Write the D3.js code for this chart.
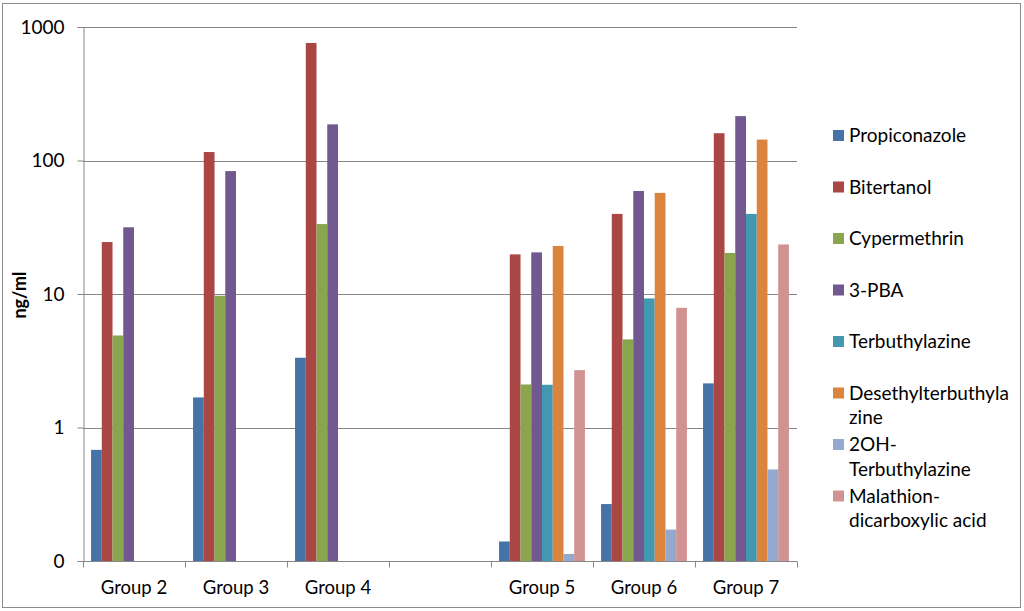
<!DOCTYPE html>
<html>
<head>
<meta charset="utf-8">
<script src="https://cdn.jsdelivr.net/npm/d3@7"></script>
<style>
  body { margin: 0; background: #fff; }
  text { font-family: Lato, "Noto Sans", sans-serif; fill: #000; }
</style>
</head>
<body>
<div class="chart"></div>
<script>
const categories = ["Group 2", "Group 3", "Group 4", "", "Group 5", "Group 6", "Group 7"];
const seriesNames = ["Propiconazole", "Bitertanol", "Cypermethrin", "3-PBA",
  "Terbuthylazine", "Desethylterbuthylazine", "2OH-Terbuthylazine", "Malathion-dicarboxylic acid"];
const legendLines = [["Propiconazole"], ["Bitertanol"], ["Cypermethrin"], ["3-PBA"],
  ["Terbuthylazine"], ["Desethylterbuthyla", "zine"], ["2OH-", "Terbuthylazine"], ["Malathion-", "dicarboxylic acid"]];
const colors = ["#4572A7", "#AA4643", "#89A54E", "#71588F", "#4198AF", "#DB843D", "#93A9CF", "#D19392"];

// one array per series, one value per category (null = no bar)
const propiconazole = [0.68, 1.68, 3.33, null, 0.14, 0.267, 2.14];
const bitertanol    = [24.5, 115.7, 759, null, 19.8, 39.8, 160];
const cypermethrin  = [4.89, 9.7, 33.4, null, 2.1, 4.57, 20.3];
const pba3          = [31.6, 83.3, 186.5, null, 20.5, 59.1, 215];
const terbuthyl     = [null, null, null, null, 2.09, 9.26, 39.8];
const desethyl      = [null, null, null, null, 22.9, 57.2, 143.5];
const oh2terbuthyl  = [null, null, null, null, 0.113, 0.172, 0.485];
const malathion     = [null, null, null, null, 2.69, 7.88, 23.5];
const seriesValues = [propiconazole, bitertanol, cypermethrin, pba3, terbuthyl, desethyl, oh2terbuthyl, malathion];

const yTickValues = [0.1, 1, 10, 100, 1000];
const yTickLabels = ["0", "1", "10", "100", "1000"];

const W = 1024, H = 611;
const plot = { left: 83, right: 797, top: 27, bottom: 561 };

const svg = d3.select(".chart").append("svg")
  .attr("width", W).attr("height", H);

// chart frame
svg.append("rect")
  .attr("x", 2.5).attr("y", 3.5).attr("width", 1018).attr("height", 604)
  .attr("fill", "#fff").attr("stroke", "#8c8c8c");

const y = d3.scaleLog().domain([0.1, 1000]).range([plot.bottom, plot.top]);
const x0 = d3.scaleBand().domain(d3.range(categories.length)).range([plot.left, plot.right]);
const x1 = d3.scaleBand().domain(d3.range(seriesNames.length))
  .range([0, x0.bandwidth()]).paddingInner(0).paddingOuter(0.75);

// gridlines
svg.append("g").selectAll("line").data(yTickValues.slice(1)).join("line")
  .attr("x1", plot.left).attr("x2", plot.right)
  .attr("y1", d => Math.round(y(d)) + 0.5).attr("y2", d => Math.round(y(d)) + 0.5)
  .attr("stroke", "#868686").attr("stroke-width", 1);

// bars
const bars = [];
seriesValues.forEach((vals, s) => vals.forEach((v, c) => {
  if (v != null) bars.push({ s, c, v });
}));
svg.append("g").selectAll("rect").data(bars).join("rect")
  .attr("x", d => x0(d.c) + x1(d.s))
  .attr("width", x1.bandwidth())
  .attr("y", d => y(d.v))
  .attr("height", d => y(0.1) - y(d.v))
  .attr("fill", d => colors[d.s]);

// y axis
const yAxis = d3.axisLeft(y).tickValues(yTickValues)
  .tickFormat((d, i) => yTickLabels[i]).tickSize(6).tickPadding(13);
const gy = svg.append("g").attr("transform", `translate(${plot.left + 0.5},0)`).call(yAxis);
gy.select(".domain").attr("stroke", "#868686");
gy.selectAll(".tick line").attr("stroke", "#868686");
gy.selectAll(".tick text").style("font-size", "19px").style("font-family", "Lato, sans-serif");

// x axis
const xAxis = d3.axisBottom(x0).tickSize(0).tickFormat(i => categories[i]).tickPadding(19);
const gx = svg.append("g").attr("transform", `translate(0,${plot.bottom + 0.5})`).call(xAxis);
gx.select(".domain").attr("stroke", "#868686").attr("d", `M${plot.left},0H${plot.right}`);
gx.selectAll(".tick text").style("font-size", "18.5px").style("font-family", "Lato, sans-serif");
gx.selectAll(".cat-tick").data(d3.range(categories.length + 1)).join("line")
  .attr("x1", i => Math.round(plot.left + i * x0.step()) + 0.5)
  .attr("x2", i => Math.round(plot.left + i * x0.step()) + 0.5)
  .attr("y1", 0).attr("y2", 6).attr("stroke", "#868686");

// y title
svg.append("text")
  .attr("transform", "translate(26,295) rotate(-90)")
  .attr("text-anchor", "middle")
  .style("font-size", "18px").style("font-weight", "bold")
  .text("ng/ml");

// legend
const legend = svg.append("g").attr("transform", "translate(833,0)");
const legendY = d3.scaleLinear().domain([0, 1]).range([135.5, 187]);
const item = legend.selectAll("g").data(legendLines).join("g")
  .attr("transform", (d, i) => `translate(0,${legendY(i)})`);
item.append("rect").attr("x", 0).attr("y", -5.5).attr("width", 11).attr("height", 11)
  .attr("fill", (d, i) => colors[i]);
item.append("text")
  .style("font-size", "19px")
  .selectAll("tspan").data(d => d).join("tspan")
  .attr("x", 16).attr("y", (d, j) => 6.5 + j * 24.5)
  .text(d => d);
</script>
</body>
</html>
